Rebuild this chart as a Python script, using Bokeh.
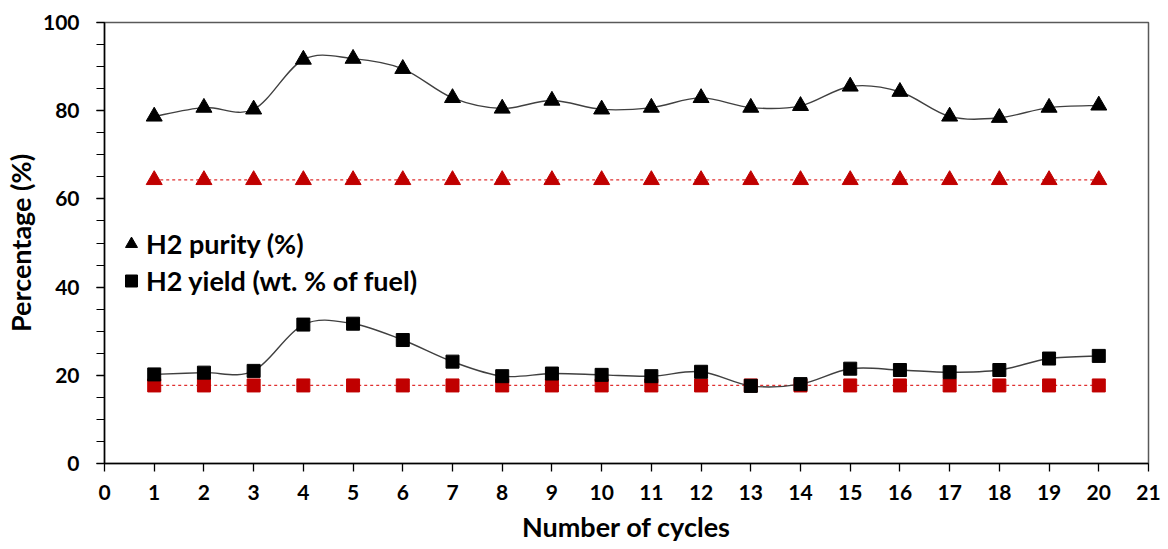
import numpy as np
from bokeh.plotting import figure
from bokeh.models import Range1d, FixedTicker, Legend, LegendItem, ColumnDataSource
from bokeh.embed import file_html
from bokeh.resources import INLINE

cycles = list(range(1, 21))
h2_purity = [78.7, 80.7, 80.3, 91.6, 91.8, 89.5, 82.9, 80.5, 82.3, 80.3,
             80.7, 82.9, 80.7, 81.1, 85.5, 84.3, 78.7, 78.4, 80.7, 81.2]
h2_yield = [20.2, 20.6, 21.0, 31.5, 31.7, 28.0, 23.1, 19.8, 20.4, 20.1,
            19.8, 20.8, 17.6, 18.0, 21.5, 21.2, 20.7, 21.2, 23.8, 24.4]
purity_ref = [64.3] * 20
yield_ref = [17.7] * 20
x_ticks = list(range(0, 22))
y_ticks = [0, 20, 40, 60, 80, 100]

FONT = "Lato"

p = figure(width=1168, height=549, output_backend="svg", toolbar_location=None,
           x_range=Range1d(0, 21), y_range=Range1d(0, 100),
           min_border_left=99, min_border_right=20, min_border_top=22, min_border_bottom=86)
p.xgrid.visible = False
p.ygrid.visible = False
p.outline_line_color = "#595959"
p.outline_line_width = 1.5
p.background_fill_color = "white"


def smooth_bezier(xs, ys):
    xs = np.asarray(xs, float)
    ys = np.asarray(ys, float)
    n = len(xs)
    d = dict(x0=[], y0=[], x1=[], y1=[], cx0=[], cy0=[], cx1=[], cy1=[])
    for i in range(n - 1):
        im1 = max(i - 1, 0)
        ip2 = min(i + 2, n - 1)
        d["x0"].append(xs[i]); d["y0"].append(ys[i])
        d["x1"].append(xs[i + 1]); d["y1"].append(ys[i + 1])
        d["cx0"].append(xs[i] + (xs[i + 1] - xs[im1]) / 6)
        d["cy0"].append(ys[i] + (ys[i + 1] - ys[im1]) / 6)
        d["cx1"].append(xs[i + 1] - (xs[ip2] - xs[i]) / 6)
        d["cy1"].append(ys[i + 1] - (ys[ip2] - ys[i]) / 6)
    return ColumnDataSource(d)


# reference dashed lines
p.line(cycles, purity_ref, line_color="#e03030", line_width=1.2, line_dash="3 3")
p.line(cycles, yield_ref, line_color="#e03030", line_width=1.2, line_dash="3 3")

# smooth lines
for ys in (h2_purity, h2_yield):
    p.bezier(x0="x0", y0="y0", x1="x1", y1="y1", cx0="cx0", cy0="cy0", cx1="cx1", cy1="cy1",
             source=smooth_bezier(cycles, ys), line_color="#404040", line_width=1.4)

p.scatter(cycles, purity_ref, marker="triangle", size=16, fill_color="#c00000", line_color="#c00000")
p.scatter(cycles, yield_ref, marker="square", size=13, fill_color="#c00000", line_color="#c00000")
r_pur = p.scatter(cycles, h2_purity, marker="triangle", size=16, fill_color="black", line_color="black")
r_yld = p.scatter(cycles, h2_yield, marker="square", size=13, fill_color="black", line_color="black")

legend = Legend(items=[LegendItem(label="H2 purity (%)", renderers=[r_pur]),
                       LegendItem(label="H2 yield (wt. % of fuel)", renderers=[r_yld])],
                location=(12, 164), orientation="vertical")
legend.border_line_color = None
legend.background_fill_alpha = 0
legend.label_text_font = FONT
legend.label_text_font_style = "bold"
legend.label_text_font_size = "27px"
legend.label_text_color = "black"
legend.label_standoff = 0
legend.glyph_width = 30
legend.glyph_height = 35
legend.label_height = 37
legend.spacing = 0
legend.padding = 0
legend.margin = 0
p.add_layout(legend, "center")

# axes
p.xaxis.ticker = FixedTicker(ticks=x_ticks)
p.yaxis.ticker = FixedTicker(ticks=y_ticks, minor_ticks=list(range(0, 101, 5)))
for ax in (p.xaxis[0], p.yaxis[0]):
    ax.axis_line_color = "black"
    ax.axis_line_width = 1.5
    ax.major_tick_line_color = "black"
    ax.major_tick_line_width = 1.3
    ax.major_tick_out = 8
    ax.major_tick_in = 0
    ax.major_label_text_font = FONT
    ax.major_label_text_font_style = "bold"
    ax.major_label_text_font_size = "21px"
    ax.major_label_text_color = "black"
    ax.axis_label_text_font = FONT
    ax.axis_label_text_font_style = "bold"
    ax.axis_label_text_font_size = "27px"
    ax.axis_label_text_color = "black"
p.xaxis.minor_tick_line_color = None
p.yaxis.minor_tick_line_color = "black"
p.yaxis.minor_tick_line_width = 1.2
p.yaxis.minor_tick_out = 8
p.yaxis.minor_tick_in = 0
p.xaxis.major_label_standoff = 13
p.yaxis.major_label_standoff = 17
p.xaxis.axis_label = "Number of cycles"
p.yaxis.axis_label = "Percentage (%)"
p.xaxis.axis_label_standoff = 7
p.yaxis.axis_label_standoff = 3

open("out.html", "w").write(file_html(p, INLINE))
